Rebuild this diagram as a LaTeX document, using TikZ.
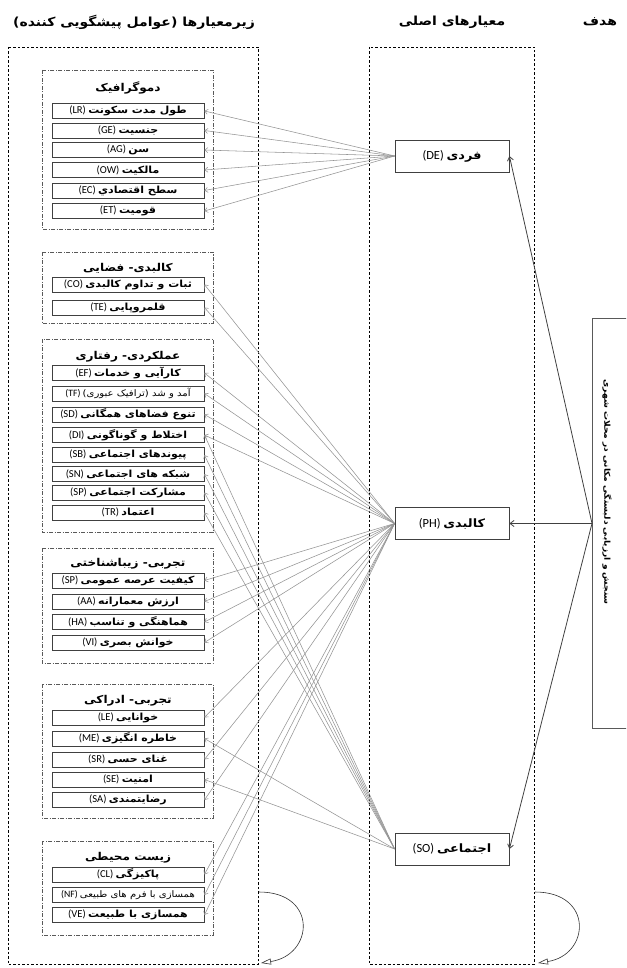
\documentclass[tikz,border=0pt]{standalone}
\usepackage{fontspec}
\setmainfont{Carlito}[Scale=1.08]
\newfontfamily\fa[Script=Arabic, FakeStretch=1.12]{DejaVu Sans}
\TeXXeTstate=1
\usetikzlibrary{arrows.meta}
\newcommand\fatext[1]{{\fa\bfseries\beginR #1\endR}}
\newcommand\faplain[1]{{\fa\beginR #1\endR}}
\newcommand\lab[2]{(#2)\ \fatext{#1}}
\newcommand\labsmall[2]{(#2)\ \faplain{#1}}
\tikzset{
  bigbox/.style={draw=black, line width=0.7pt, dash pattern=on 2.5pt off 2pt},
  grpbox/.style={draw=black!65, line width=0.6pt, dash pattern=on 4pt off 1.5pt on 1pt off 1.5pt},
  item/.style={draw=black!75, line width=0.8pt, fill=white, minimum width=152, minimum height=15, inner sep=0pt, font=\fontsize{9.8}{11}\selectfont},
  smallitem/.style={item, font=\fontsize{9}{10}\selectfont},
  grptitle/.style={inner sep=0pt, font=\fontsize{10.8}{12}\selectfont},
  header/.style={inner sep=0pt, font=\fontsize{12.5}{14}\selectfont},
  mid/.style={draw=black!75, line width=0.8pt, fill=white, minimum width=114, minimum height=32, inner sep=0pt, font=\fontsize{11.5}{13}\selectfont},
  fan/.style={draw=black!42, line width=0.55pt, -{Straight Barb[length=3pt,width=5pt]}},
  goalarrow/.style={draw=black!75, line width=0.8pt, -{Straight Barb[length=4pt,width=6pt]}},
  selfloop/.style={draw=black!80, line width=0.6pt, -{Triangle[open,length=10pt,width=6pt]}},
}
\begin{document}
\begin{tikzpicture}[x=1pt,y=-1pt]
\useasboundingbox (0,0) rectangle (626,968);
\clip (0,0) rectangle (626,968);
% headers
\node[header] (h1) at (600,22) {\fatext{هدف}};
\node[header] (h2) at (452,22) {\fatext{معیارهای اصلی}};
\node[header] (h3) at (134,22) {\fatext{زیرمعیارها (عوامل پیشگویی کننده)}};
% big boxes
\draw[bigbox] (8,47) rectangle (258,964);
\draw[bigbox] (369,47) rectangle (534,964);
% group boxes
\draw[grpbox] (42,70) rectangle (213,229);
\draw[grpbox] (42,252) rectangle (213,323);
\draw[grpbox] (42,339) rectangle (213,532);
\draw[grpbox] (42,548) rectangle (213,663);
\draw[grpbox] (42,684) rectangle (213,818);
\draw[grpbox] (42,841) rectangle (213,935);
% group titles
\node[grptitle] (g1) at (128,88) {\fatext{دموگرافیک}};
\node[grptitle] (g2) at (128,268) {\fatext{کالبدی- فضایی}};
\node[grptitle] (g3) at (128,357) {\fatext{عملکردی- رفتاری}};
\node[grptitle] (g4) at (128,564) {\fatext{تجربی- زیباشناختی}};
\node[grptitle] (g5) at (128,701) {\fatext{تجربی- ادراکی}};
\node[grptitle] (g6) at (128,858) {\fatext{زیست محیطی}};
% items
\node[item] (lr) at (128,111) {\lab{طول مدت سکونت}{LR}};
\node[item] (ge) at (128,130.5) {\lab{جنسیت}{GE}};
\node[item] (ag) at (128,150) {\lab{سن}{AG}};
\node[item] (ow) at (128,170) {\lab{مالکیت}{OW}};
\node[item] (ec) at (128,190.5) {\lab{سطح اقتصادي}{EC}};
\node[item] (et) at (128,211) {\lab{قومیت}{ET}};
\node[item] (co) at (128,284.5) {\lab{ثبات و تداوم کالبدی}{CO}};
\node[item] (te) at (128,307.5) {\lab{قلمروپایی}{TE}};
\node[item] (ef) at (128,373) {\lab{کارآیی و خدمات}{EF}};
\node[smallitem] (tf) at (128,393.5) {\labsmall{آمد و شد (ترافیک عبوری)}{TF}};
\node[item] (sd) at (128,414.5) {\lab{تنوع فضاهای همگانی}{SD}};
\node[item] (di) at (128,435) {\lab{اختلاط و گوناگونی}{DI}};
\node[item] (sb) at (128,455) {\lab{پیوندهای اجتماعی}{SB}};
\node[item] (sn) at (128,474) {\lab{شبکه های اجتماعی}{SN}};
\node[item] (sp) at (128,492.5) {\lab{مشارکت اجتماعی}{SP}};
\node[item] (tr) at (128,512.5) {\lab{اعتماد}{TR}};
\node[item] (qs) at (128,580.5) {\lab{کیفیت عرصه عمومی}{SP}};
\node[item] (aa) at (128,601.5) {\lab{ارزش معمارانه}{AA}};
\node[item] (ha) at (128,622) {\lab{هماهنگی و تناسب}{HA}};
\node[item] (vi) at (128,642.5) {\lab{خوانش بصری}{VI}};
\node[item] (le) at (128,717.5) {\lab{خوانایی}{LE}};
\node[item] (me) at (128,738.5) {\lab{خاطره انگیزی}{ME}};
\node[item] (sr) at (128,759.5) {\lab{غنای حسی}{SR}};
\node[item] (se) at (128,779.5) {\lab{امنیت}{SE}};
\node[item] (sa) at (128,800) {\lab{رضایتمندی}{SA}};
\node[item] (cl) at (128,874.5) {\lab{پاکیزگی}{CL}};
\node[smallitem] (nf) at (128,895) {\labsmall{همسازی با فرم های طبیعی}{NF}};
\node[item] (ve) at (128,915) {\lab{همسازی با طبیعت}{VE}};
% main criteria
\node[mid] (de) at (452,156) {\lab{فردی}{DE}};
\node[mid] (ph) at (452,523.5) {\lab{کالبدی}{PH}};
\node[mid] (so) at (452,849) {\lab{اجتماعی}{SO}};
% goal
\node[draw=black!65, line width=0.8pt, minimum width=70, minimum height=410, inner sep=0pt, anchor=north west] (goal) at (592,318) {};
\node[inner sep=0pt, rotate=-90, font=\fontsize{8.1}{10}\selectfont] (goaltext) at (607,492) {\fatext{سنجش و ارزیابی دلبستگی مکانی در محلات شهری}};
% fans from DE
\foreach \t in {lr,ge,ag,ow,ec,et} \draw[fan] (de.west) -- (\t.east);
% fans from PH
\foreach \t in {co,te,ef,tf,sd,di,qs,aa,ha,vi,le,sr,sa,cl,nf,ve} \draw[fan] (ph.west) -- (\t.east);
% fans from SO
\foreach \t in {di,sb,sn,sp,tr,me,se} \draw[fan] (so.west) -- (\t.east);
% goal arrows
\draw[goalarrow] (goal.west) -- (de.east);
\draw[goalarrow] (goal.west) -- (ph.east);
\draw[goalarrow] (goal.west) -- (so.east);
% self loops
\coordinate (la) at (259,892);
\coordinate (lb) at (261,963);
\coordinate (ma) at (535,892);
\coordinate (mb) at (538,963);
\draw[selfloop] (la) .. controls (318,892) and (314,955) .. (lb);
\draw[selfloop] (ma) .. controls (594,892) and (590,955) .. (mb);
\end{tikzpicture}
\end{document}
